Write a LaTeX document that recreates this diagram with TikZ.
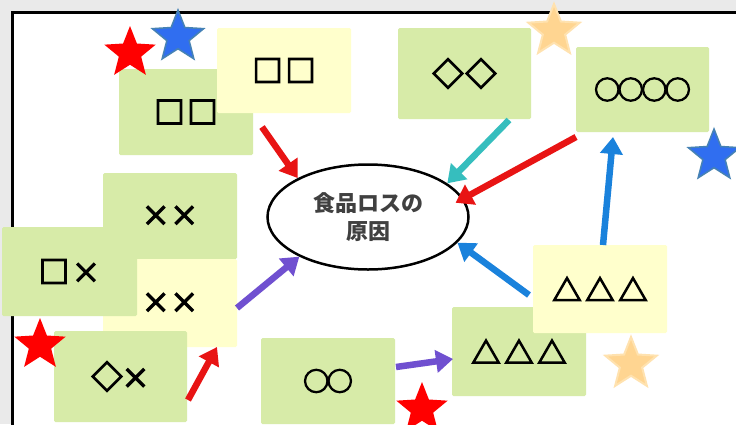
\documentclass[tikz,border=0pt]{standalone}
\usepackage{fontspec}
\newfontfamily\cjk{Noto Sans CJK JP}
\newfontfamily\symf[FakeBold=5]{Noto Sans CJK JP}
\usetikzlibrary{shapes.geometric,arrows.meta}
\definecolor{boxgreen}{RGB}{215,235,168}
\definecolor{boxyellow}{RGB}{255,255,204}
\definecolor{bggray}{RGB}{234,234,234}
\definecolor{arrred}{RGB}{232,20,20}
\definecolor{arrteal}{RGB}{54,190,190}
\definecolor{arrblue}{RGB}{26,130,220}
\definecolor{arrpurple}{RGB}{112,80,208}
\definecolor{starred}{RGB}{255,0,0}
\definecolor{starblue}{RGB}{48,110,240}
\definecolor{starblueedge}{RGB}{70,130,180}
\definecolor{starorange}{RGB}{255,213,145}
\definecolor{starorangeedge}{RGB}{255,226,175}
\definecolor{txtgray}{RGB}{64,64,64}
\newcommand{\sqr}{{\fontsize{30}{30}\selectfont □}}
\newcommand{\dia}{{\fontsize{31}{31}\selectfont ◇}}
\newcommand{\crs}{{\fontsize{28}{28}\selectfont ×}}
\newcommand{\cir}{{\fontsize{26}{26}\selectfont ○}}
\newcommand{\tri}{{\fontsize{29}{29}\selectfont △}}
\tikzset{
  sbox/.style={rectangle, rounded corners=1.5pt, inner sep=0pt, font=\symf},
  gbox/.style={sbox, fill=boxgreen},
  ybox/.style={sbox, fill=boxyellow},
  fivestar/.style={star, star points=5, star point ratio=2.3, inner sep=0pt, minimum size=54pt},
  redstar/.style={fivestar, fill=starred},
  bluestar/.style={fivestar, fill=starblue, draw=starblueedge, line width=1.5pt},
  orangestar/.style={fivestar, fill=starorange, draw=starorangeedge, line width=2pt},
  arr/.style={line width=6.5pt, -{Triangle[length=17pt,width=22pt]}},
}
\begin{document}
\begin{tikzpicture}[x=1pt,y=-1pt]
\useasboundingbox (0,0) rectangle (736,424);
\clip (0,0) rectangle (736,424);
\fill[bggray] (0,0) rectangle (736,424);
\fill[white] (12,12) rectangle (760,440);
\draw[line width=3pt] (12,440) -- (12,12) -- (760,12);

% boxes
\node[gbox, minimum width=134pt, minimum height=86pt] (gA) at (186,112) {\sqr\kern3pt\sqr};
\node[ybox, minimum width=134pt, minimum height=85pt] (yA) at (284,70.5) {\sqr\kern3pt\sqr};
\node[gbox, minimum width=134pt, minimum height=86pt] (gB) at (170,216) {\crs\kern0.5pt\crs};
\node[ybox, minimum width=134pt, minimum height=88pt] (yB) at (170,303) {\crs\kern0.5pt\crs};
\node[gbox, minimum width=135pt, minimum height=89pt] (gC) at (69.5,271.5) {\sqr\kern3pt\crs};
\node[gbox, minimum width=133pt, minimum height=91pt] (gD) at (120.5,376.5) {\dia\kern-1pt\crs};
\node[gbox, minimum width=134pt, minimum height=86pt] (gE) at (328,381) {\cir\kern-2.5pt\cir};
\node[gbox, minimum width=134pt, minimum height=89pt] (gF) at (519,351.5) {\tri\kern4pt\tri\kern4pt\tri};
\node[ybox, minimum width=134pt, minimum height=88pt] (yF) at (600,289) {\tri\kern4pt\tri\kern4pt\tri};
\node[gbox, minimum width=133pt, minimum height=91pt] (gG) at (464.5,73.5) {\dia\kern2pt\dia};
\node[gbox, minimum width=133pt, minimum height=85pt] (gH) at (642.5,89.5) {\cir\kern-2.5pt\cir\kern-2.5pt\cir\kern-2.5pt\cir};

% central ellipse
\node[ellipse, draw, line width=2.5pt, fill=white, minimum width=201pt, minimum height=105pt,
  inner sep=0pt, align=center, text=txtgray,
  font=\cjk\bfseries\fontsize{22}{28}\selectfont] (e) at (368,217) {食品ロスの\\原因};

% stars
\node[redstar] (s1) at (130,53) {};
\node[bluestar] (s2) at (178,37) {};
\node[orangestar] (s3) at (554,31) {};
\node[bluestar] (s4) at (714,156) {};
\node[redstar] (s5) at (40,345) {};
\node[redstar] (s6) at (422,409) {};
\node[orangestar] (s7) at (631,364) {};

% arrow end points
\coordinate (a1s) at (262,127);
\coordinate (a2s) at (509,120);
\coordinate (a3s) at (576,137);
\coordinate (a4s) at (529,295);
\coordinate (a5s) at (603,245);
\coordinate (a5e) at (613,137);
\coordinate (a6s) at (237,308);
\coordinate (a7s) at (188,400);
\coordinate (a7e) at (217,347);
\coordinate (a8s) at (396,367);
\coordinate (a8e) at (453,359);

% arrows
\draw[arr, arrred] (a1s) -- (e.151);
\draw[arr, arrteal] (a2s) -- (e.23);
\draw[arr, arrred, shorten >=-9pt] (a3s) -- (e.11);
\draw[arr, arrblue] (a4s) -- (e.-16);
\draw[arr, arrblue] (a5s) -- (a5e);
\draw[arr, arrpurple] (a6s) -- (e.210);
\draw[arr, arrred] (a7s) -- (a7e);
\draw[arr, arrpurple] (a8s) -- (a8e);
\end{tikzpicture}
\end{document}
